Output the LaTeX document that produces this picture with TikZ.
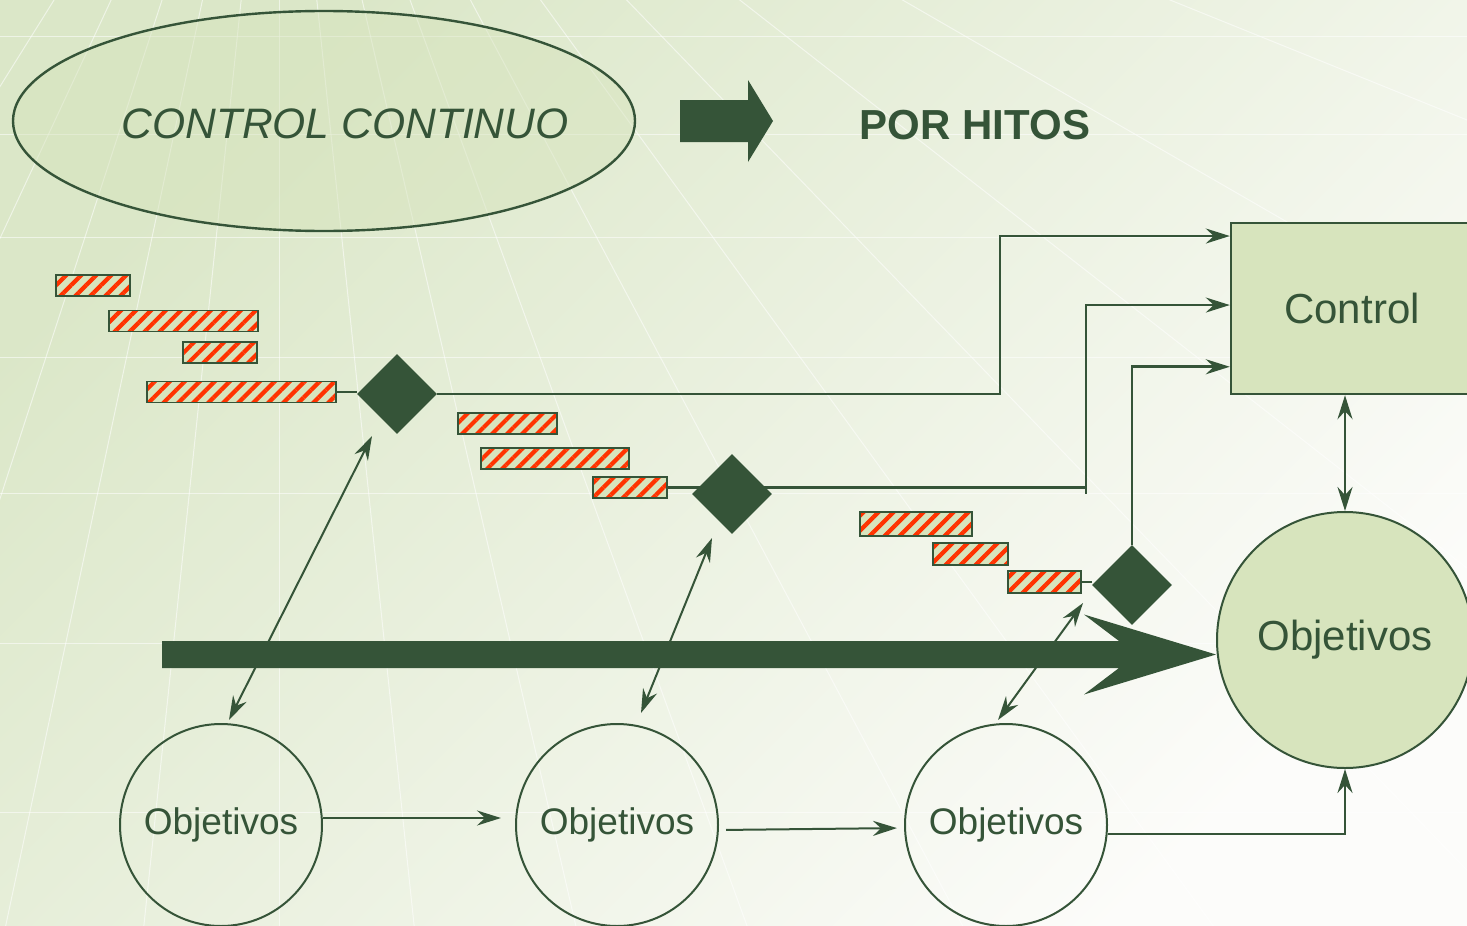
\documentclass[tikz,border=0pt]{standalone}
\usepackage{fontspec}
\setmainfont{Liberation Sans}
\usepackage{tikz}
\usetikzlibrary{arrows.meta,positioning,calc}
\usetikzlibrary{shapes.geometric,patterns.meta}
\definecolor{verde}{RGB}{53,84,56}
\definecolor{verdeclaro}{RGB}{215,228,189}
\definecolor{rojo}{RGB}{255,51,0}
\definecolor{fondo1}{RGB}{219,231,200}
\definecolor{fondo2}{RGB}{252,252,250}
\tikzset{
	%Define standard arrow tip
	>={Stealth[length=12pt,width=7.5pt,inset=4pt]},
	%Define style for hatched bars
	barra/.style={
		rectangle,
		draw=verde, line width=0.8pt,
		preaction={fill=verdeclaro},
		pattern={Lines[angle=45,distance=5.3pt,line width=2.1pt]},
		pattern color=rojo,
		minimum height=10.5pt,
		inner sep=0pt},
	%Define style for milestones
	hito/.style={
		diamond,
		fill=verde,
		minimum size=40pt,
		inner sep=0pt},
	% Define style for goals
	meta/.style={
		circle,
		draw=verde, line width=1pt,
		text=verde,
		font=\fontsize{18.5}{20}\selectfont,
		minimum size=101pt,
		inner sep=0pt},
	% Define arrow style
	flecha/.style={
		draw=verde,
		line width=1pt}
}
\begin{document}
\begin{tikzpicture}[x=0.5pt,y=-0.5pt]
	\useasboundingbox (0,0) rectangle (1467,926);
	
	% background
	\shade[top color=fondo1, bottom color=fondo2, shading angle=45] (0,0) rectangle (1467,926);
	\begin{scope}
		\clip (0,0) rectangle (1467,926);
		\foreach \a in {14,22,30,38,46,54,62,70,77,84,90,96,102,108,115,122,130,140,152,166}
			\draw[white, line width=0.5pt, opacity=0.55] (279,-360) -- ++(\a:2600);
		\foreach \h in {36,134,237,357,493,643,812}
			\draw[white, line width=0.5pt, opacity=0.55] (0,\h) -- (1467,\h);
	\end{scope}
	
	\node[ellipse, draw=verde, line width=1.2pt, fill=verdeclaro, fill opacity=0.5,
		minimum width=311pt, minimum height=110pt,
		label={[xshift=10.5pt, yshift=-1.5pt, text=verde, text opacity=1, font=\itshape\fontsize{21.3}{24}\selectfont]center:CONTROL CONTINUO}] (continuo) at (324,121) {};
	\fill[verde] (680,100) -- (748,100) -- (748,80) -- (773,121) -- (748,162) -- (748,142) -- (680,142) -- cycle;
	\node[text=verde, font=\bfseries\fontsize{21}{24}\selectfont] (hitos) at (975,125) {POR HITOS};
	
	\node[rectangle, draw=verde, line width=1.2pt, fill=verdeclaro, minimum width=121pt, minimum height=85.5pt,
		text=verde, font=\fontsize{21}{24}\selectfont] (control) at (1352,308.5) {\raisebox{-1pt}{Control}};
	\node[meta, minimum size=128pt, fill=verdeclaro, font=\fontsize{21}{24}\selectfont] (obj-final) at (1345,640) {\raisebox{-1.5pt}{Objetivos}};
	
	\node[meta] (obj1) at (221,825) {Objetivos};
	\node[meta, right = 96pt of obj1] (obj2) {Objetivos};
	\node[meta, right = 92.5pt of obj2] (obj3) {Objetivos};
	
	% tasks of each milestone
	\node[barra, minimum width=37pt] (t1-hito1) at (93,285.5) {};
	\node[barra, minimum width=74.5pt] (t2-hito1) at (183.5,321) {};
	\node[barra, minimum width=37pt] (t3-hito1) at (220,352.5) {};
	\node[barra, minimum width=94.5pt] (t4-hito1) at (241.5,392) {};
	
	\node[barra, minimum width=49.5pt] (t1-hito2) at (507.5,423.5) {};
	\node[barra, minimum width=74pt] (t2-hito2) at (555,458.5) {};
	\node[barra, minimum width=37pt] (t3-hito2) at (630,487.5) {};
	
	\node[barra, minimum width=56pt, minimum height=12pt] (t1-hito3) at (916,524) {};
	\node[barra, minimum width=37.5pt, minimum height=11pt] (t2-hito3) at (970.5,554) {};
	\node[barra, minimum width=36.5pt, minimum height=11pt] (t3-hito3) at (1044.5,582) {};
	
	\node[hito] (hito1) at (397,394) {};
	\node[hito] (hito2) at (732,494) {};
	\node[hito] (hito3) at (1132,585) {};
	
	\draw[flecha, line width=1.3pt] (t4-hito1.east) -- (t4-hito1.east -| hito1.west);
	\draw[flecha, line width=1.3pt] (t3-hito2.east) -- (t3-hito2.east -| hito2.center);
	\draw[flecha, line width=1.3pt] (t3-hito3.east) -- (t3-hito3.east -| hito3.west);
	
	% big flow arrow
	\coordinate (flujo) at (162,654.5);
	\coordinate (punta) at (obj-final.west |- flujo);
	\fill[verde] (flujo) ++(0,-13.5) -- ($(punta)+(-97,-13.5)$) -- ($(punta)+(-132,-40)$) -- (punta)
		-- ($(punta)+(-132,40)$) -- ($(punta)+(-97,13.5)$) -- ($(flujo)+(0,13.5)$) -- cycle;
	
	% milestones to control
	\coordinate (codo1) at (1000,0);
	\coordinate (codo2) at (1086,0);
	\coordinate (e1) at ($(control.north west)!0.082!(control.south west)$);
	\coordinate (e2) at ($(control.north west)!0.48!(control.south west)$);
	\coordinate (e3) at ($(control.north west)!0.836!(control.south west)$);
	\draw[flecha, line width=1.3pt, ->] (hito1.east) -- (hito1.east -| codo1) |- (e1);
	\draw[flecha, line width=1.3pt, ->] (t3-hito2.east -| hito2.center) -- (t3-hito2.east -| codo2) |- (e2);
	\draw[flecha, line width=1.3pt] (t3-hito2.east -| codo2) -- (hito2.center -| codo2);
	\draw[flecha, line width=1.3pt, ->] (hito3.north) |- (e3);
	\draw[flecha, line width=1.3pt, <->] (obj-final.north) -- (obj-final.north |- control.south);
	
	% goals and milestones
	\draw[flecha, <->] ([xshift=4pt,yshift=1.5pt]obj1.north) -- ([xshift=-12.5pt,yshift=-21pt]hito1.center);
	\draw[flecha, <->] ([xshift=12pt,yshift=5pt]obj2.north) -- ([xshift=-10pt,yshift=-22pt]hito2.center);
	\draw[flecha, <->] ([xshift=-4pt,yshift=1.5pt]obj3.north) -- ([xshift=-24.5pt,yshift=-9pt]hito3.center);
	
	\draw[flecha, ->, shorten >=7pt] ([yshift=3.5pt]obj1.east) -- ([yshift=3.5pt]obj2.west);
	\draw[flecha, ->, shorten <=3.5pt, shorten >=3.5pt] ([yshift=-2.5pt]obj2.east) -- ([yshift=-1.5pt]obj3.west);
	\draw[flecha, line width=1.3pt, ->] ([yshift=-4.5pt]obj3.east) -| (obj-final.south);
	
\end{tikzpicture}
\end{document}
